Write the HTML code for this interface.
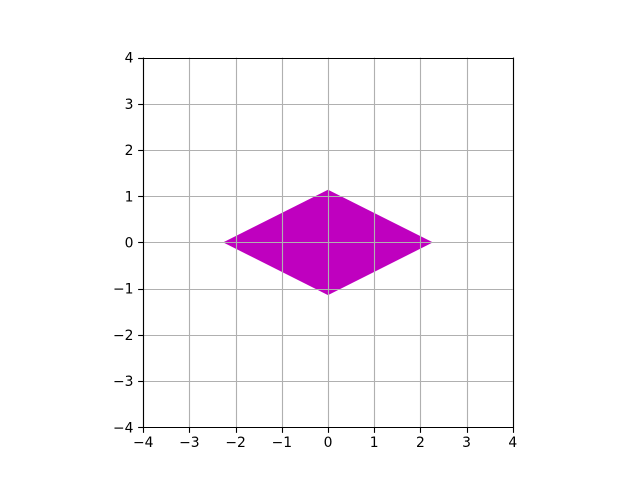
<!DOCTYPE html>
<html lang="en">
<head>
<meta charset="utf-8">
<title>Diamond polygon chart</title>
<style>
  html, body { margin: 0; padding: 0; background: #ffffff; width: 640px; height: 480px; overflow: hidden; }
  svg { display: block; }
  text { font-family: "DejaVu Sans", sans-serif; font-size: 13.89px; fill: #000000; }
</style>
</head>
<body>
<svg id="chart" xmlns="http://www.w3.org/2000/svg" width="640" height="480" viewBox="0 0 640 480"></svg>
<script>
const xTicks = [-4, -3, -2, -1, 0, 1, 2, 3, 4];
const yTicks = [-4, -3, -2, -1, 0, 1, 2, 3, 4];
const polygonX = [0, 2.27, 0, -2.27];
const polygonY = [1.14, 0, -1.14, 0];

const svg = document.getElementById('chart');
const NS = 'http://www.w3.org/2000/svg';
const plotLeft = 143.2, plotRight = 512.8, plotTop = 57.6, plotBottom = 427.2;
const domainMin = -4, domainMax = 4;

function sx(v) { return plotLeft + (v - domainMin) / (domainMax - domainMin) * (plotRight - plotLeft); }
function sy(v) { return plotBottom - (v - domainMin) / (domainMax - domainMin) * (plotBottom - plotTop); }
function snap(p) { return Math.floor(p + 0.5) + 0.5; }
function fmt(v) { return v < 0 ? '\u2212' + Math.abs(v) : String(v); }

function line(x1, y1, x2, y2, color, width) {
  const el = document.createElementNS(NS, 'line');
  el.setAttribute('x1', x1);
  el.setAttribute('y1', y1);
  el.setAttribute('x2', x2);
  el.setAttribute('y2', y2);
  el.setAttribute('stroke', color);
  el.setAttribute('stroke-width', width);
  el.setAttribute('stroke-linecap', 'butt');
  svg.appendChild(el);
  return el;
}

function label(x, y, str, anchor) {
  const el = document.createElementNS(NS, 'text');
  el.setAttribute('x', x);
  el.setAttribute('y', y);
  el.setAttribute('text-anchor', anchor);
  el.textContent = str;
  svg.appendChild(el);
  return el;
}

const background = document.createElementNS(NS, 'rect');
background.setAttribute('x', plotLeft);
background.setAttribute('y', plotTop);
background.setAttribute('width', plotRight - plotLeft);
background.setAttribute('height', plotBottom - plotTop);
background.setAttribute('fill', '#ffffff');


svg.appendChild(background);

const diamond = document.createElementNS(NS, 'polygon');
diamond.setAttribute('points', polygonX.map(function (v, i) { return sx(v) + ',' + sy(polygonY[i]); }).join(' '));
diamond.setAttribute('fill', '#bf00bf');


svg.appendChild(diamond);

xTicks.forEach(function (t) {
  const x = snap(sx(t));
  const grid = line(x, plotTop, x, plotBottom, '#b0b0b0', 1.11);
  
  
});

yTicks.forEach(function (t) {
  const y = snap(sy(t));
  const grid = line(plotLeft, y, plotRight, y, '#b0b0b0', 1.11);
  
  
});

xTicks.forEach(function (t) {
  const x = snap(sx(t));
  const tick = line(x, snap(plotBottom), x, snap(plotBottom) + 5.36, '#000000', 1.11);
  
  
  const text = label(sx(t), 447, fmt(t), 'middle');
  
  
});

yTicks.forEach(function (t) {
  const y = snap(sy(t));
  const tick = line(snap(plotLeft) - 5.36, y, snap(plotLeft), y, '#000000', 1.11);
  
  
  const text = label(133.5, sy(t) + 5.1, fmt(t), 'end');
  
  
});

const spineLeft = line(snap(plotLeft), plotTop, snap(plotLeft), plotBottom + 0.9, '#000000', 1.11);



const spineRight = line(snap(plotRight), plotTop, snap(plotRight), plotBottom + 0.9, '#000000', 1.11);



const spineTop = line(plotLeft, snap(plotTop), plotRight + 0.3, snap(plotTop), '#000000', 1.11);



const spineBottom = line(plotLeft, snap(plotBottom), plotRight + 0.3, snap(plotBottom), '#000000', 1.11);


</script>
</body>
</html>
